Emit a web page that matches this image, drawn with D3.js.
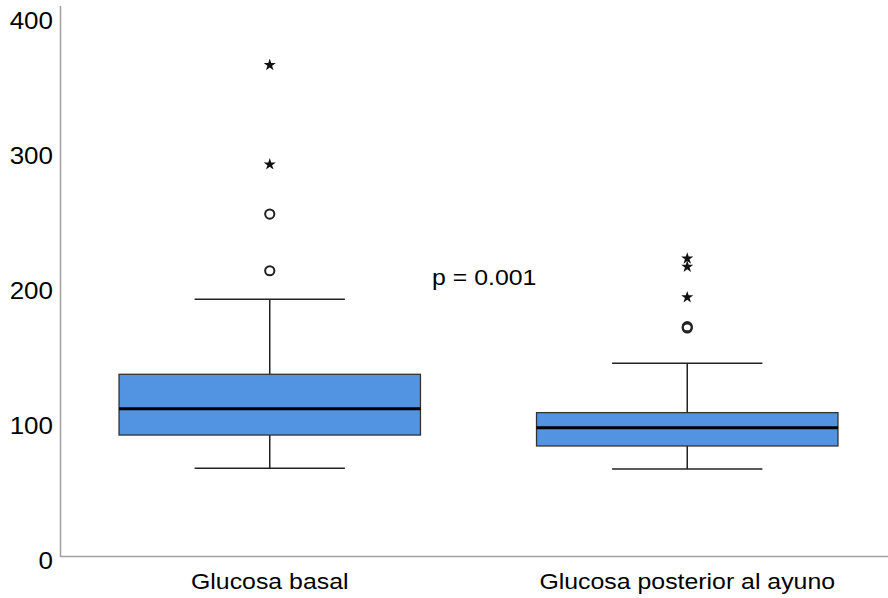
<!DOCTYPE html>
<html>
<head>
<meta charset="utf-8">
<script src="https://cdn.jsdelivr.net/npm/d3@7"></script>
<style>
  body { margin: 0; background: #fff; }
  text { font-family: "Liberation Sans", Arial, sans-serif; fill: #000; }
</style>
</head>
<body>
<script>
// values
const categories = ['Glucosa basal', 'Glucosa posterior al ayuno'];
const whiskerLow = [68.7, 68.1];
const q1 = [93.3, 85.2];
const median = [112.8, 98.7];
const q3 = [138.3, 109.9];
const whiskerHigh = [193.9, 146.4];
// circles = outliers, stars = extreme values
const circleOutliers = [[257, 215], [172.6, 173.6]];
const starOutliers = [[367.4, 293.8], [224, 218, 195.3]];
const yTicks = [0, 100, 200, 300, 400];
const pLabel = 'p = 0.001';

const W = 888, H = 598;
const stretch = 1.13; // the source text looks slightly wide

const svg = d3.select('body').append('svg')
  .attr('width', W)
  .attr('height', H);

const y = d3.scaleLinear().domain([0, 400]).range([561, 21]);
const x = d3.scaleBand().domain(categories).range([61, 896]).padding(0);
const bw = x.bandwidth();

// axes lines
svg.append('line')
  .attr('x1', 60.5).attr('x2', 60.5)
  .attr('y1', 6).attr('y2', 557)
  .attr('stroke', '#a0a0a0').attr('stroke-width', 1.5);
svg.append('line')
  .attr('x1', 60).attr('x2', W)
  .attr('y1', 556.5).attr('y2', 556.5)
  .attr('stroke', '#a0a0a0').attr('stroke-width', 1.5);

// y tick labels
svg.selectAll('.ytick')
  .data(yTicks)
  .enter()
  .append('text')
  .attr('class', 'ytick')
  .attr('transform', d => `translate(53,${y(d)}) scale(${stretch},1)`)
  .attr('dy', '0.36em')
  .attr('text-anchor', 'end')
  .style('font-size', '23px')
  .text(d => d);

// category labels
svg.selectAll('.xlab')
  .data(categories)
  .enter()
  .append('text')
  .attr('class', 'xlab')
  .attr('transform', d => `translate(${x(d) + bw / 2},589) scale(${stretch},1)`)
  .attr('text-anchor', 'middle')
  .style('font-size', '22px')
  .text(d => d);

const boxes = svg.selectAll('.box')
  .data(categories)
  .enter()
  .append('g')
  .attr('class', 'box')
  .attr('transform', d => `translate(${x(d) + bw / 2},0)`);

const boxW = bw * 0.722;
const capW = bw * 0.36;

// whisker stems
boxes.append('line')
  .attr('x1', 0).attr('x2', 0)
  .attr('y1', (d, i) => y(whiskerHigh[i]))
  .attr('y2', (d, i) => y(whiskerLow[i]))
  .attr('stroke', '#222').attr('stroke-width', 1.5);

// caps
[whiskerHigh, whiskerLow].forEach(arr => {
  boxes.append('line')
    .attr('x1', -capW / 2).attr('x2', capW / 2)
    .attr('y1', (d, i) => y(arr[i]))
    .attr('y2', (d, i) => y(arr[i]))
    .attr('stroke', '#222').attr('stroke-width', 1.5);
});

// box
boxes.append('rect')
  .attr('x', -boxW / 2)
  .attr('width', boxW)
  .attr('y', (d, i) => y(q3[i]))
  .attr('height', (d, i) => y(q1[i]) - y(q3[i]))
  .attr('fill', '#5294e2')
  .attr('stroke', '#333')
  .attr('stroke-width', 1.3);

// median
boxes.append('line')
  .attr('x1', -boxW / 2).attr('x2', boxW / 2)
  .attr('y1', (d, i) => y(median[i]))
  .attr('y2', (d, i) => y(median[i]))
  .attr('stroke', '#000').attr('stroke-width', 3);

// outliers
boxes.each(function(d, i) {
  const g = d3.select(this);
  g.selectAll('circle')
    .data(circleOutliers[i])
    .enter()
    .append('circle')
    .attr('cx', 0)
    .attr('cy', v => y(v))
    .attr('r', 4.6)
    .attr('fill', 'none')
    .attr('stroke', '#222')
    .attr('stroke-width', 2);

  g.selectAll('.star')
    .data(starOutliers[i])
    .enter()
    .append('path')
    .attr('class', 'star')
    .attr('transform', v => `translate(0,${y(v)})`)
    .attr('d', d3.symbol().type(d3.symbolStar).size(46))
    .attr('fill', '#111');
});

// p value annotation
svg.append('text')
  .attr('transform', `translate(432,285) scale(${stretch},1)`)
  .style('font-size', '22px')
  .text(pLabel);
</script>
</body>
</html>
